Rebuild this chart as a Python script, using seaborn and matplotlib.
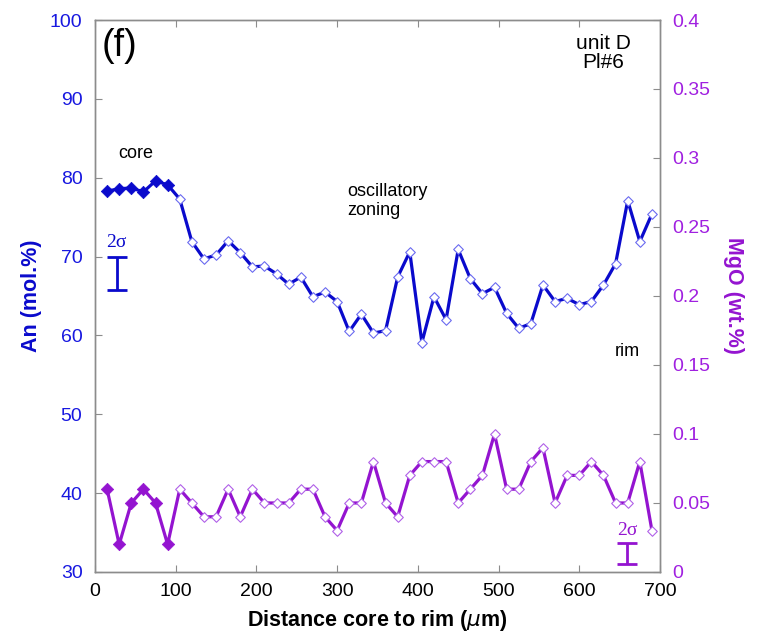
import numpy as np
import pandas as pd
import seaborn as sns
import matplotlib.pyplot as plt

# distance from core (um), 6 core points then oscillatory zone to rim
distance = [15, 30, 45, 60, 75, 90, 105, 120, 135, 150, 165, 180, 195, 210, 225,
            240, 255, 270, 285, 300, 315, 330, 345, 360, 375, 390, 405, 420, 435,
            450, 465, 480, 495, 510, 525, 540, 555, 570, 585, 600, 615, 630, 645,
            660, 675, 690]
an_mol = [78.3, 78.6, 78.7, 78.2, 79.6, 79.1, 77.3, 71.9, 69.7, 70.2, 72.0, 70.5,
          68.7, 68.8, 67.8, 66.5, 67.4, 64.9, 65.5, 64.3, 60.5, 62.7, 60.3, 60.6,
          67.4, 70.6, 59.1, 64.9, 62.0, 70.9, 67.2, 65.3, 66.1, 62.8, 60.9, 61.5,
          66.4, 64.3, 64.7, 63.9, 64.3, 66.4, 69.1, 77.1, 71.9, 75.4]
mgo_wt = [0.06, 0.02, 0.05, 0.06, 0.05, 0.02, 0.06, 0.05, 0.04, 0.04, 0.06, 0.04,
          0.06, 0.05, 0.05, 0.05, 0.06, 0.06, 0.04, 0.03, 0.05, 0.05, 0.08, 0.05,
          0.04, 0.07, 0.08, 0.08, 0.08, 0.05, 0.06, 0.07, 0.10, 0.06, 0.06, 0.08,
          0.09, 0.05, 0.07, 0.07, 0.08, 0.07, 0.05, 0.05, 0.08, 0.03]
n_core = 6

# 2 sigma error bars (x, center, half-length)
an_err = (27, 67.85, 2.15)
mgo_err = (659, 0.0135, 0.0075)

df = pd.DataFrame({"d": distance, "an": an_mol, "mgo": mgo_wt})
core = df.iloc[:n_core]
rest = df.iloc[n_core:]

blue = "#0a0acc"
blue_txt = "#1818e0"
purple = "#9414d0"
purple_txt = "#a020e0"
spine_c = "#8c8c8c"

sns.set_style("ticks")
plt.rcParams["font.family"] = ["Liberation Sans", "DejaVu Sans"]
plt.rcParams["text.color"] = "black"
plt.rcParams["axes.labelcolor"] = "black"
plt.rcParams["xtick.color"] = spine_c
plt.rcParams["xtick.labelcolor"] = "black"

fig = plt.figure(figsize=(7.58, 6.39), dpi=100)
ax = fig.add_axes([0.1253, 0.1049, 0.7454, 0.8638])
ax2 = ax.twinx()

sns.lineplot(data=df, x="d", y="an", ax=ax, color=blue, lw=2.3, zorder=2)
sns.scatterplot(data=rest, x="d", y="an", ax=ax, marker="D", s=24,
                facecolor="white", edgecolor="#6a6af0", linewidth=0.8, zorder=3)
sns.scatterplot(data=core, x="d", y="an", ax=ax, marker="D", s=40,
                color=blue, edgecolor=blue, zorder=3)

sns.lineplot(data=df, x="d", y="mgo", ax=ax2, color=purple, lw=2.3, zorder=2)
sns.scatterplot(data=rest, x="d", y="mgo", ax=ax2, marker="D", s=24,
                facecolor="white", edgecolor="#b060e8", linewidth=0.8, zorder=3)
sns.scatterplot(data=core, x="d", y="mgo", ax=ax2, marker="D", s=40,
                color=purple, edgecolor=purple, zorder=3)

ax.errorbar(an_err[0], an_err[1], yerr=an_err[2], color=blue, lw=2,
            capsize=7, capthick=2)
ax.text(an_err[0], an_err[1] + an_err[2] + 0.7, "2σ", color=blue, ha="center",
        va="bottom", fontsize=14, family=["Liberation Serif", "DejaVu Serif"])
ax2.errorbar(mgo_err[0], mgo_err[1], yerr=mgo_err[2], color=purple, lw=2,
             capsize=7, capthick=2)
ax2.text(mgo_err[0], mgo_err[1] + mgo_err[2] + 0.003, "2σ", color=purple,
         ha="center", va="bottom", fontsize=14,
         family=["Liberation Serif", "DejaVu Serif"])

ax.set_xlim(0, 700)
ax.set_ylim(30, 100)
ax2.set_ylim(0, 0.4)
ax.set_xticks(range(0, 701, 100))
ax.set_yticks(range(30, 101, 10))
ax2.set_yticks(np.arange(0, 0.41, 0.05))
ax2.set_yticklabels(["0", "0.05", "0.1", "0.15", "0.2", "0.25", "0.3", "0.35", "0.4"])

ax.tick_params(axis="both", direction="in", length=5, color=spine_c, labelsize=14,
               top=True, right=False, pad=8)
ax.tick_params(axis="y", labelcolor=blue_txt, pad=9)
ax2.tick_params(axis="y", direction="in", length=5, color=spine_c, labelsize=14,
                labelcolor=purple_txt, pad=9)
for a in (ax, ax2):
    for s in a.spines.values():
        s.set_color(spine_c)
        s.set_linewidth(1)

ax.set_xlabel("Distance core to rim ($\\mathit{\\mu}$m)", fontsize=15.5,
              fontweight="bold", labelpad=6)
ax.set_ylabel("An (mol.%)", fontsize=15.5, fontweight="bold", color=blue, labelpad=6)
ax2.set_ylabel("MgO (wt.%)", fontsize=15.5, fontweight="bold", color=purple,
               rotation=270, labelpad=24)

ax.text(0.012, 0.985, "(f)", transform=ax.transAxes, fontsize=27, va="top", ha="left")
ax.text(0.9, 0.975, "unit D\nPl#6", transform=ax.transAxes, fontsize=15,
        va="top", ha="center", linespacing=1.0)
ax.text(50, 82.5, "core", fontsize=13, ha="center")
ax.text(313, 75.3, "oscillatory\nzoning", fontsize=13, ha="left", linespacing=1.1)
ax.text(660, 57.9, "rim", fontsize=13, ha="center", va="center")

fig.savefig("out.png", dpi=100)
